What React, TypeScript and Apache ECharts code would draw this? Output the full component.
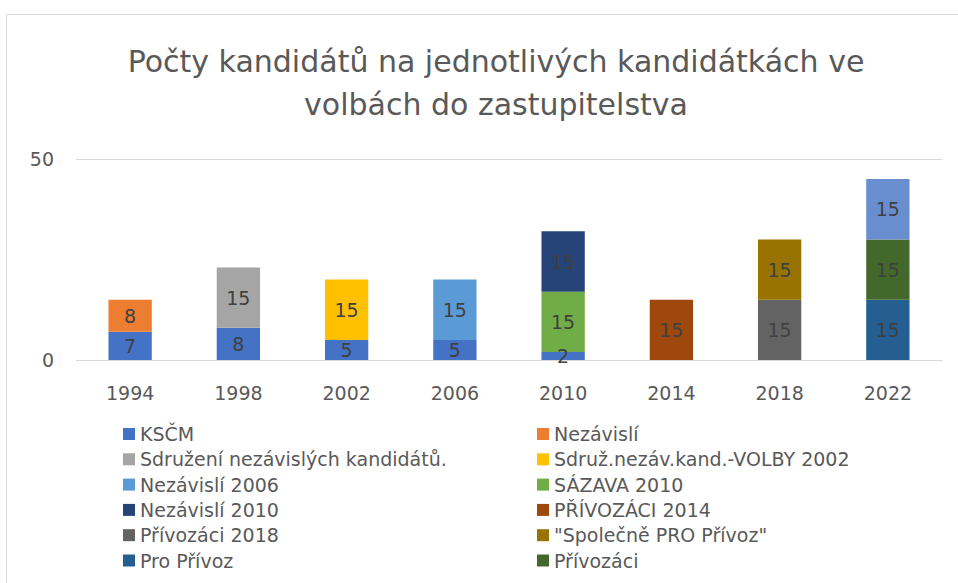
import React, { useEffect, useRef } from "react";
import * as echarts from "echarts";

const categories = ["1994", "1998", "2002", "2006", "2010", "2014", "2018", "2022"];
const seriesNames = [
  "KSČM",
  "Nezávislí",
  "Sdružení nezávislých kandidátů.",
  "Sdruž.nezáv.kand.-VOLBY 2002",
  "Nezávislí 2006",
  "SÁZAVA 2010",
  "Nezávislí 2010",
  "PŘÍVOZÁCI 2014",
  "Přívozáci 2018",
  "\"Společně PRO Přívoz\"",
  "Pro Přívoz",
  "Přívozáci",
  "Série 13",
];
const kscm = [7, 8, 5, 5, 2, null, null, null];
const nezavisli = [8, null, null, null, null, null, null, null];
const sdruzeni = [null, 15, null, null, null, null, null, null];
const sdruz2002 = [null, null, 15, null, null, null, null, null];
const nezavisli2006 = [null, null, null, 15, null, null, null, null];
const sazava2010 = [null, null, null, null, 15, null, null, null];
const nezavisli2010 = [null, null, null, null, 15, null, null, null];
const privozaci2014 = [null, null, null, null, null, 15, null, null];
const privozaci2018 = [null, null, null, null, null, null, 15, null];
const spolecne = [null, null, null, null, null, null, 15, null];
const proPrivoz = [null, null, null, null, null, null, null, 15];
const privozaci = [null, null, null, null, null, null, null, 15];
const serie13 = [null, null, null, null, null, null, null, 15];
const seriesData = [
  kscm, nezavisli, sdruzeni, sdruz2002, nezavisli2006, sazava2010,
  nezavisli2010, privozaci2014, privozaci2018, spolecne, proPrivoz, privozaci, serie13,
];
const colors = [
  "#4472C4", "#ED7D31", "#A5A5A5", "#FFC000", "#5B9BD5", "#70AD47",
  "#264478", "#9E480E", "#636363", "#997300", "#255E91", "#43682B", "#698ED0",
];
const yTicks = [0, 50];

const FONT = "'DejaVu Sans', 'Noto Sans', sans-serif";

export default function App() {
  const ref = useRef<HTMLDivElement>(null);
  useEffect(() => {
    if (!ref.current) return;
    const chart = echarts.init(ref.current, null, { renderer: "svg" });
    const legendText = { fontSize: 19, color: "#595959", fontFamily: FONT, lineHeight: 19 };
    chart.setOption({
      animation: false,
      color: colors,
      textStyle: { fontFamily: FONT },
      title: {
        text: "Počty kandidátů na jednotlivých kandidátkách ve\nvolbách do zastupitelstva",
        left: 491,
        top: 35,
        textAlign: "center",
        textStyle: { fontSize: 30, fontWeight: "normal", color: "#595959", fontFamily: FONT, lineHeight: 43 },
      },
      graphic: [
        {
          type: "rect",
          shape: { x: 6.5, y: 14.5, width: 1000, height: 1000 },
          style: { fill: "none", stroke: "#d9d9d9", lineWidth: 1 },
          silent: true,
        },
      ],
      legend: [
        {
          orient: "vertical",
          left: 118,
          top: 419.5,
          itemWidth: 12,
          itemHeight: 12,
          itemGap: 6.3,
          icon: "rect",
          textStyle: legendText,
          data: seriesNames.filter((_, i) => i % 2 === 0 && i < 12),
        },
        {
          orient: "vertical",
          left: 532,
          top: 419.5,
          itemWidth: 12,
          itemHeight: 12,
          itemGap: 6.3,
          icon: "rect",
          textStyle: legendText,
          data: seriesNames.filter((_, i) => i % 2 === 1 && i < 12),
        },
      ],
      grid: { left: 76, top: 159, width: 866, height: 201, containLabel: false },
      xAxis: {
        type: "category",
        data: categories,
        axisTick: { show: false },
        axisLine: { show: true, lineStyle: { color: "#d9d9d9", width: 1 } },
        axisLabel: { fontSize: 19, color: "#595959", fontFamily: FONT, margin: 23 },
      },
      yAxis: {
        type: "value",
        min: yTicks[0],
        max: yTicks[1],
        interval: 50,
        axisLine: { show: false },
        axisTick: { show: false },
        splitLine: { show: true, lineStyle: { color: "#d9d9d9", width: 1 } },
        axisLabel: { fontSize: 19, color: "#595959", fontFamily: FONT, margin: 22 },
      },
      series: seriesNames.map((name, i) => ({
        name,
        type: "bar",
        stack: "total",
        barWidth: "40%",
        data: seriesData[i],
        itemStyle: { color: colors[i] },
        label: {
          show: true,
          position: "inside",
          fontSize: 19,
          color: "#404040",
          fontFamily: FONT,
        },
      })),
    });
    return () => chart.dispose();
  }, []);
  return (
    <div
      ref={ref}
      style={{ position: "fixed", left: 0, top: 0, width: 958, height: 583, background: "#fff" }}
    />
  );
}
